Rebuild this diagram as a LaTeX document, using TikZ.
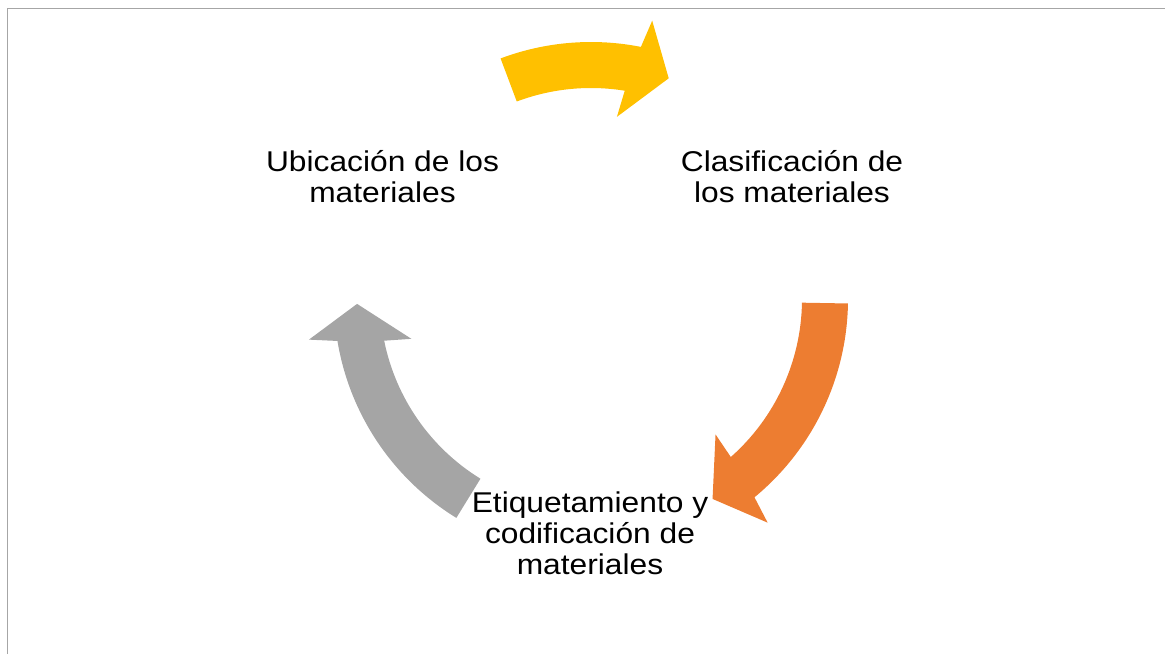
\documentclass[tikz,border=0pt]{standalone}
\usepackage{fontspec}
\setmainfont[FakeStretch=1.11]{Liberation Sans}
\usepackage{xcolor}
\usetikzlibrary{positioning}

\definecolor{cycYellow}{HTML}{FFC000}
\definecolor{cycOrange}{HTML}{ED7D31}
\definecolor{cycGray}{HTML}{A5A5A5}
\definecolor{frameGray}{HTML}{A6A6A6}

\begin{document}
\begin{tikzpicture}[
    x=1pt, y=1pt,
    lbl/.style={align=center, inner sep=0pt, font=\fontsize{28.6}{30.8}\selectfont},
    frame/.style={draw=frameGray, line width=1.5pt}
]
    \useasboundingbox (0,0) rectangle (1165,654);

    % Frame
    \draw[frame] (7.5,0) -- (7.5,645.5) -- (1165,645.5);

    % Centre of the cycle
    \coordinate (ctr) at (591,355);

    % Curved arrows: tail angle / tip angle / colour
    \begin{scope}[shift={(ctr)}]
    \foreach \tl/\tp/\col in {110.6/70.6/cycYellow, -1.0/-58.7/cycOrange, 238.4/181.2/cycGray}
        \fill[\col] (\tl:257) arc[start angle=\tl, end angle=\tp+8.2, radius=257]
            -- ({\tp+7}:285) -- (\tp:234) -- ({\tp+11.3}:184) -- ({\tp+10.2}:211)
            arc[start angle=\tp+10.2, end angle=\tl, radius=211] -- cycle;
    \end{scope}

    % Steps
    \node[lbl] (ubic) at (382.5,477.5) {Ubicación de los\\materiales};
    \node[lbl] (clas) at (792,477.5) {Clasificación de\\los materiales};
    \node[lbl] (etiq) at (590,121) {Etiquetamiento y\\codificación de\\materiales};
\end{tikzpicture}
\end{document}
